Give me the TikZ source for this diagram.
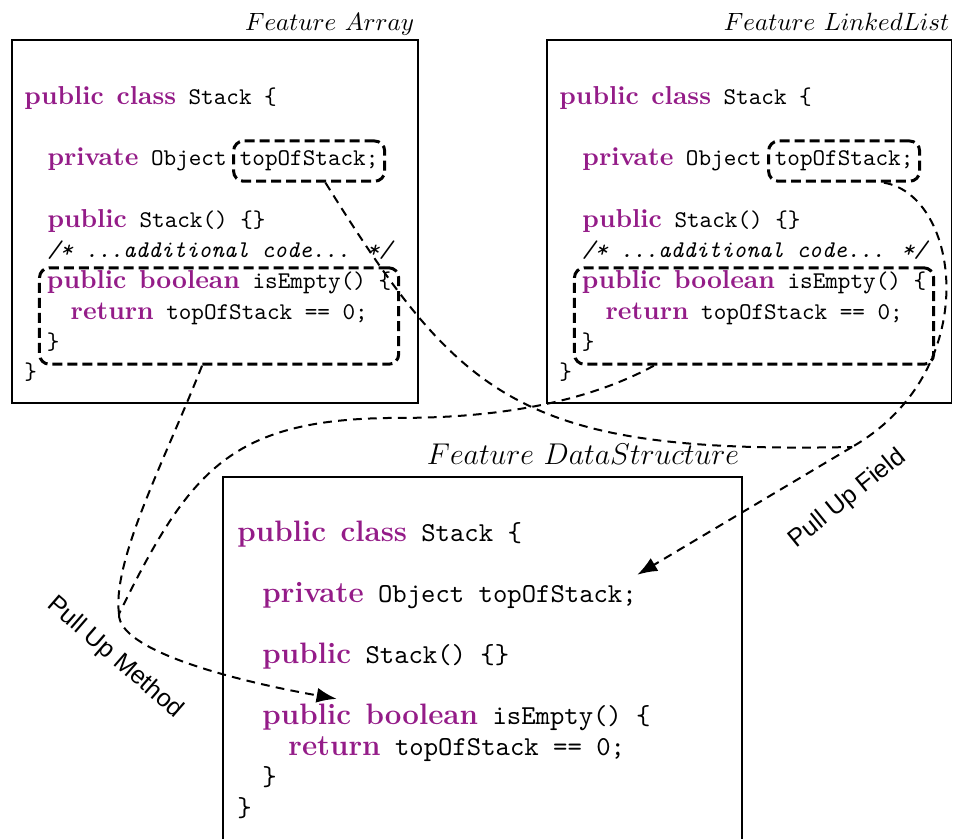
\documentclass[tikz,border=0pt]{standalone}
\usepackage{fontspec}
\setsansfont{Liberation Sans}
\usetikzlibrary{arrows.meta}
\definecolor{kwpurple}{RGB}{148,28,136}
\makeatletter
\def\kw#1{{\fontsize{\fpeval{1.08*\f@size}}{\f@baselineskip}\selectfont\rmfamily\bfseries\color{kwpurple}#1}}
\makeatother

\begin{document}
\begin{tikzpicture}[
		frame/.style={line width=0.6pt},
		code/.style={anchor=base west, inner sep=0pt, font=\fontsize{9.6}{12.2}\selectfont\ttfamily},
		bigcode/.style={anchor=base west, inner sep=0pt, font=\fontsize{10.95}{13}\selectfont\ttfamily},
		feature/.style={anchor=base east, inner sep=0pt, font=\fontsize{10.4}{12}\selectfont},
		markbox/.style={draw, very thick, dash pattern=on 4pt off 2pt, rounded corners=4pt},
		link/.style={thick, dash pattern=on 3.5pt off 2.5pt},
		pull/.style={link, -{Latex[length=8pt,width=6pt]}},
		refactoring/.style={font=\sffamily}
	]
			%%%%% START %%%%%
			
			\useasboundingbox (0,0) rectangle (13.40,11.795);
			
			% feature Array
			\draw[frame] (0.17,6.13) rectangle (5.88,11.23);
			\node[feature] (arrtitle) at (5.83,11.37) {$Feature\ Array$};
			\node[code] (arrclass) at (0.337,10.319) {\kw{public} \kw{class} Stack \{};
			\node[code] (arrpriv) at (0.661,9.462) {\kw{private} Object};
			\node[code, markbox, inner xsep=2.5pt, inner ysep=4pt] (arrfield) at ([xshift=2pt]arrpriv.base east) {topOfStack;};
			\node[code] (arrctor) at (0.661,8.590) {\kw{public} Stack() \{\}};
			\node[code] (arrcomment) at (0.661,8.168) {\itshape /* ...additional code... */};
			\node[code, markbox, anchor=north west, align=left, inner xsep=3pt, inner ysep=1.2pt] (arrmethod) at (0.534,8.051) {\kw{public} \kw{boolean} isEmpty() \{\\\hspace*{9.5pt}\kw{return} topOfStack == 0;\\\}\rule[-4.6pt]{0pt}{1pt}};
			\node[code] (arrend) at (0.337,6.460) {\}};
			
			% feature LinkedList
			\draw[frame] (7.69,6.13) rectangle (13.38,11.23);
			\node[feature] (lltitle) at (13.356,11.37) {$Feature\ LinkedList$};
			\node[code] (llclass) at (7.859,10.319) {\kw{public} \kw{class} Stack \{};
			\node[code] (llpriv) at (8.183,9.462) {\kw{private} Object};
			\node[code, markbox, inner xsep=2.5pt, inner ysep=4pt] (llfield) at ([xshift=2pt]llpriv.base east) {topOfStack;};
			\node[code] (llctor) at (8.183,8.590) {\kw{public} Stack() \{\}};
			\node[code] (llcomment) at (8.183,8.168) {\itshape /* ...additional code... */};
			\node[code, markbox, anchor=north west, align=left, inner xsep=3pt, inner ysep=1.2pt] (llmethod) at (8.056,8.051) {\kw{public} \kw{boolean} isEmpty() \{\\\hspace*{9.5pt}\kw{return} topOfStack == 0;\\\}\rule[-4.6pt]{0pt}{1pt}};
			\node[code] (llend) at (7.859,6.460) {\}};
			
			% feature DataStructure
			\draw[frame] (3.135,0) |- (10.432,5.089) -- (10.432,0);
			\node[feature, font=\fontsize{11.8}{14}\selectfont] (dstitle) at (10.40,5.258) {$Feature\ DataStructure$};
			\node[bigcode] (dsclass) at (3.332,4.176) {\kw{public} \kw{class} Stack \{};
			\node[bigcode] (dsfield) at (3.683,3.318) {\kw{private} Object topOfStack;};
			\node[bigcode] (dsctor) at (3.683,2.460) {\kw{public} Stack() \{\}};
			\node[bigcode] (dsmethod) at (3.683,1.603) {\kw{public} \kw{boolean} isEmpty() \{};
			\node[bigcode] (dsreturn) at (4.049,1.167) {\kw{return} topOfStack == 0;};
			\node[bigcode] (dsclose) at (3.683,0.745) {\}};
			\node[bigcode] (dsend) at (3.332,0.309) {\}};
			
			% pull up field
			\coordinate (fieldjoin) at (11.98,5.51);
			\draw[link] ([xshift=0.23cm]arrfield.south) .. controls (6.47,6.19) and (7.31,5.41) .. (fieldjoin);
			\draw[link] ([xshift=0.56cm]llfield.south) .. controls (13.50,9.05) and (13.85,6.59) .. (fieldjoin);
			\draw[pull] (fieldjoin) -- ([yshift=3pt]dsfield.north east);
			\node[refactoring, rotate=39] (pullfield) at (11.92,4.78) {Pull Up Field};
			
			% pull up method
			\coordinate (methodjoin) at (1.673,3.163);
			\draw[link] ([xshift=-0.24cm]arrmethod.south) .. controls (2.32,5.33) and (1.575,3.92) .. (methodjoin);
			\draw[link] ([xshift=-1.41cm]llmethod.south) .. controls (8.435,6.242) and (7.311,5.919) .. (5.624,5.919) .. controls (3.234,5.919) and (2.671,5.188) .. (methodjoin);
			\draw[pull] (methodjoin) .. controls (1.659,2.657) and (3.234,2.235) .. ([xshift=1.05cm,yshift=2pt]dsmethod.north west);
			\node[refactoring, rotate=-41] (pullmethod) at (1.617,2.545) {Pull Up Method};
			
			%%%%% END %%%%%
\end{tikzpicture}
\end{document}
